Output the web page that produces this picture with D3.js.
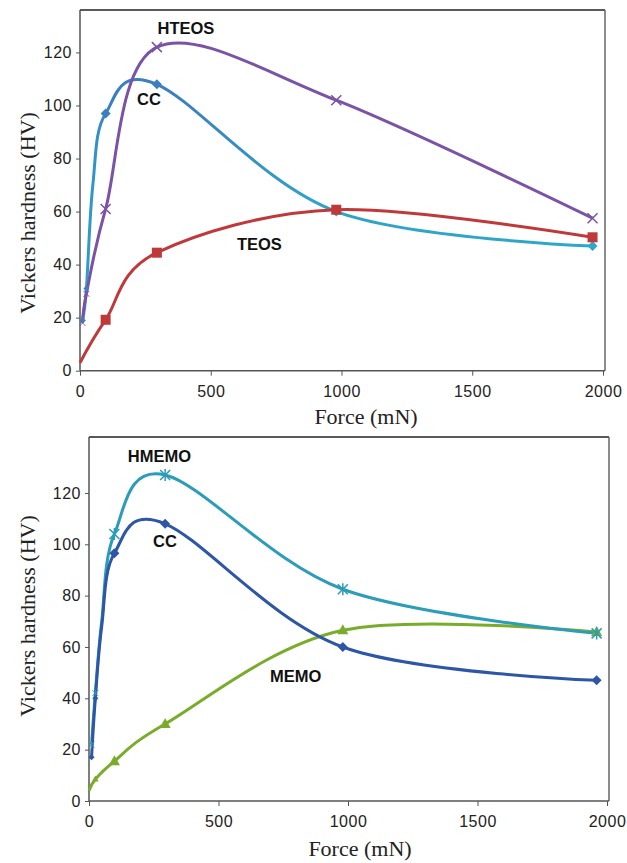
<!DOCTYPE html>
<html>
<head>
<meta charset="utf-8">
<script src="https://cdn.jsdelivr.net/npm/d3@7"></script>
<style>
  html, body { margin: 0; padding: 0; background: #fff; }
  svg { display: block; }
  .tick text { font-family: "Liberation Sans", Arial, sans-serif; font-size: 16px; letter-spacing: 0.5px; fill: #222; }
  .axis path, .axis line { stroke: #555; }
</style>
</head>
<body>
<svg id="chart" width="627" height="863"></svg>
<script>
// ---- data (Force in mN, Vickers hardness in HV) ----
const forceTicks = [0, 500, 1000, 1500, 2000];
const hvTicks = [0, 20, 40, 60, 80, 100, 120];
// loads at which indentations were measured (markers drawn here)
const markerForces = [9.8, 24.5, 98, 294, 980, 1960];
const smallMarkerForces = [9.8, 24.5];

// top panel
const hteos  = [[9.8, 18], [24.5, 29], [98, 61], [294, 122], [980, 102], [1960, 57.5]];
const ccTop  = [[9.8, 19], [24.5, 31], [49, 70], [98, 97], [294, 108], [980, 60], [1960, 47]];
const teos   = [[0, 3], [98, 19.2], [294, 44.5], [980, 60.7], [1960, 50.3]];

// bottom panel
const hmemo    = [[9.8, 22], [24.5, 42], [49, 70], [98, 104], [294, 127], [980, 82.5], [1960, 65.3]];
const ccBottom = [[9.8, 17], [24.5, 40], [49, 68], [98, 96.5], [294, 108], [980, 60], [1960, 47]];
const memo     = [[0, 4], [24.5, 8.5], [98, 15.5], [294, 30], [980, 66.5], [1960, 65.8]];

// labels [text, force, hv]
const topLabels = [["HTEOS", 405, 127], ["CC", 218, 100], ["TEOS", 600, 45.5]];
const bottomLabels = [["HMEMO", 150, 132], ["CC", 247, 99], ["MEMO", 699, 46.4]];

const svg = d3.select("#chart");
const defs = svg.append("defs");

const panels = [
  { x0: 80, x1: 603, y0: 370.7, ymax: 136, top: 10,
    series: [
      { data: ccTop, color: "#3a8fc6", gradient: ["#2ba6ca", "#3a7fc0", "#3a80c0", "#2fa3c7", "#2ea7c8"], marker: "diamond" },
      { data: hteos, color: "#7a52a6", marker: "cross" },
      { data: teos,  color: "#c0393a", marker: "square" }
    ],
    labels: topLabels, ytitleY: 213, xtitleX: 366, xtitleY: 424 },
  { x0: 89, x1: 607, y0: 801, ymax: 141.8, top: 437,
    series: [
      { data: memo,     color: "#7aac2c", marker: "triangle" },
      { data: hmemo,    color: "#2b9cb9", marker: "asterisk" },
      { data: ccBottom, color: "#2d56a7", marker: "diamond" }
    ],
    labels: bottomLabels, ytitleY: 616, xtitleX: 360, xtitleY: 856 }
];

panels.forEach((p, pi) => {
  const x = d3.scaleLinear().domain([0, 2000]).range([p.x0, p.x1]);
  const y = d3.scaleLinear().domain([0, p.ymax]).range([p.y0, p.top]);
  const g = svg.append("g");

  // frame (top and right)
  g.append("line").attr("x1", p.x0).attr("x2", p.x1 + 2).attr("y1", p.top).attr("y2", p.top)
    .attr("stroke", "#222").attr("stroke-width", 1.5);
  g.append("line").attr("x1", p.x1 + 2).attr("x2", p.x1 + 2).attr("y1", p.top).attr("y2", p.y0)
    .attr("stroke", "#666").attr("stroke-width", 1.5);

  // axes
  const ax = g.append("g").attr("class", "axis").attr("transform", `translate(0,${p.y0})`)
    .call(d3.axisBottom(x).tickValues(forceTicks).tickFormat(d3.format("d")).tickSize(5).tickPadding(10));
  ax.select(".domain").attr("d", `M${p.x0},0H${p.x1 + 2}`).attr("stroke-width", 1.5);
  const ay = g.append("g").attr("class", "axis").attr("transform", `translate(${p.x0},0)`)
    .call(d3.axisLeft(y).tickValues(hvTicks).tickFormat(d3.format("d")).tickSize(4).tickPadding(4));
  ay.select(".domain").attr("d", `M0,${p.top}V${p.y0}`).attr("stroke-width", 1.5);

  // lines
  const line = d3.line().x(d => x(d[0])).y(d => y(d[1])).curve(d3.curveCatmullRom.alpha(0));
  p.series.forEach((s, si) => {
    let stroke = s.color;
    if (s.gradient) {
      const id = `grad${pi}_${si}`;
      const lg = defs.append("linearGradient").attr("id", id).attr("gradientUnits", "userSpaceOnUse")
        .attr("x1", x(0)).attr("x2", x(2000)).attr("y1", 0).attr("y2", 0);
      const offs = [0, 0.06, 0.2, 0.45, 1];
      s.gradient.forEach((c, i) => lg.append("stop").attr("offset", offs[i]).attr("stop-color", c));
      stroke = `url(#${id})`;
    }
    g.append("path").attr("d", line(s.data)).attr("fill", "none")
      .attr("stroke", stroke).attr("stroke-width", 3).attr("stroke-linejoin", "round");
  });
  // markers
  p.series.forEach(s => {
    const pts = s.data.filter(d => markerForces.includes(d[0]));
    pts.forEach(d => {
      const cx = x(d[0]), cy = y(d[1]);
      const k = smallMarkerForces.includes(d[0]) ? 0.6 : 1;
      const col = s.gradient ? (d[0] < 500 ? "#3a80c0" : "#2ea7c8") : s.color;
      const m = g.append("g").attr("transform", `translate(${cx},${cy}) scale(${k})`);
      if (s.marker === "diamond") {
        m.append("path").attr("d", "M0,-5L5,0L0,5L-5,0Z").attr("fill", col);
      } else if (s.marker === "square") {
        m.append("rect").attr("x", -5).attr("y", -5).attr("width", 10).attr("height", 10).attr("fill", col);
      } else if (s.marker === "triangle") {
        m.append("path").attr("d", "M0,-6L5.5,4L-5.5,4Z").attr("fill", col);
      } else if (s.marker === "cross") {
        m.append("path").attr("d", "M-5,-5L5,5M-5,5L5,-5").attr("stroke", col).attr("stroke-width", 1.5);
      } else if (s.marker === "asterisk") {
        m.append("path").attr("d", "M-5,-5L5,5M-5,5L5,-5M0,-6V6").attr("stroke", col).attr("stroke-width", 1.5);
      }
    });
  });

  // series labels
  p.labels.forEach(l => {
    g.append("text").attr("x", x(l[1])).attr("y", y(l[2]))
      .attr("text-anchor", l[0] === "HTEOS" ? "middle" : "start")
      .attr("font-family", "'Liberation Sans', Arial, sans-serif").attr("font-weight", "bold")
      .attr("font-size", 16.5).attr("fill", "#111").text(l[0]);
  });

  // axis titles
  g.append("text").attr("transform", `translate(35,${p.ytitleY}) rotate(-90)`)
    .attr("text-anchor", "middle").attr("font-family", "'Liberation Serif', 'Times New Roman', serif")
    .attr("font-size", 22).attr("fill", "#222").text("Vickers hardness (HV)");
  g.append("text").attr("x", p.xtitleX).attr("y", p.xtitleY)
    .attr("text-anchor", "middle").attr("font-family", "'Liberation Serif', 'Times New Roman', serif")
    .attr("font-size", 22).attr("fill", "#222").text("Force (mN)");
});
</script>
</body>
</html>
